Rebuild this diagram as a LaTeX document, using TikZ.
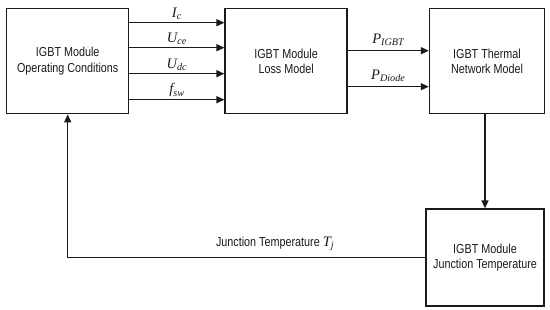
\documentclass[tikz,border=0pt]{standalone}
\usepackage{fontspec}
\setmainfont{Liberation Sans}[FakeStretch=0.83]
\newfontfamily\varfont{Liberation Serif}
\usetikzlibrary{positioning, arrows.meta}
\definecolor{ink}{HTML}{1A1A1A}

% italic symbol with subscript
\newcommand{\qty}[2]{{\varfont\itshape\fontsize{14.5}{16}\selectfont #1\textsubscript{#2}}}

\begin{document}
\begin{tikzpicture}[
      x=1pt, y=-1pt,
      node distance=95pt,
      every node/.style={font=\fontsize{13}{15.5}\selectfont, text=ink},
      block/.style={rectangle, draw=ink, line width=1.4pt, minimum width=122pt,
                    minimum height=105pt, align=center, inner sep=0pt},
      arr/.style={-{Triangle[length=8pt,width=7pt]}, draw=ink, line width=1.4pt},
      lbl/.style={above, inner sep=2pt},
    ]
    \useasboundingbox (0,0) rectangle (550,310);

    \node[block, anchor=north west] (cond) at (6,8) {IGBT Module \\ Operating Conditions};
    \node[block, right=95pt of cond] (loss) {IGBT Module \\ Loss Model};
    \node[block, right=81pt of loss, minimum width=115pt] (therm) {IGBT Thermal \\ Network Model};
    \node[block, below=94pt of therm, xshift=-2pt, minimum width=118pt,
          minimum height=97pt] (junc) {IGBT Module \\ Junction Temperature};

    \foreach \dy/\lab in {38.5/{\qty{I}{c}}, 13.5/{\qty{U}{ce}},
                          -12.5/{\qty{U}{dc}}, -38.5/{\qty{f}{sw}}}
      \draw[arr] ([yshift=\dy pt]cond.east) -- ([yshift=\dy pt]loss.west)
        node[lbl, midway] {\lab};

    \draw[arr] ([yshift=10.5pt]loss.east) -- ([yshift=10.5pt]therm.west)
      node[lbl, midway, inner sep=4pt] {\qty{P}{IGBT}};
    \draw[arr] ([yshift=-25.5pt]loss.east) -- ([yshift=-25.5pt]therm.west)
      node[lbl, midway, inner sep=4pt] {\qty{P}{Diode}};

    \draw[arr] (therm.south -| junc.north) -- (junc.north);
    \draw[arr] (junc.west) -| (cond.south)
      node[lbl, pos=0.21, inner sep=6pt] {Junction Temperature \qty{T}{j}};
  \end{tikzpicture}
\end{document}
